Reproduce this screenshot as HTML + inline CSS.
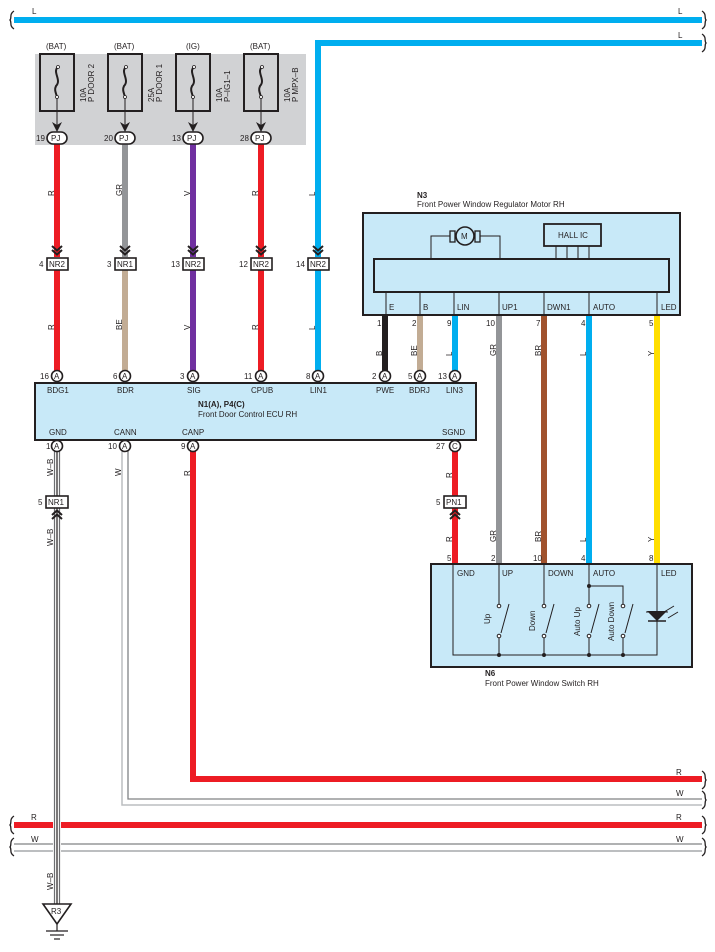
<!DOCTYPE html>
<html><head><meta charset="utf-8"><style>
html,body{margin:0;padding:0;background:#fff;}
svg{display:block;font-family:"Liberation Sans",Arial,sans-serif;}
text{font-size:8px;fill:#231f20;}
</style></head><body>
<svg width="715" height="952" viewBox="0 0 715 952" xmlns="http://www.w3.org/2000/svg">
<defs>
<g id="chevD"><path d="M-5,-10 L0,-5.5 L5,-10 M-5,-6 L0,-1.5 L5,-6" fill="none" stroke="#231f20" stroke-width="2"/></g>
<g id="chevU"><path d="M-5,10 L0,5.5 L5,10 M-5,6 L0,1.5 L5,6" fill="none" stroke="#231f20" stroke-width="2"/></g>
<path id="sq" d="M0,-9 C-5,-6 -2,-2 -4,0 C-2,2 -5,6 0,9" fill="none" stroke="#231f20" stroke-width="1.3"/>
<path id="sqr" d="M0,-9 C5,-6 2,-2 4,0 C2,2 5,6 0,9" fill="none" stroke="#231f20" stroke-width="1.3"/>
</defs>

<!-- top L buses -->
<line x1="14" y1="20" x2="702" y2="20" stroke="#00aeef" stroke-width="6"/>
<use href="#sq" x="14" y="20"/><use href="#sqr" x="702" y="20"/>
<text x="32" y="14">L</text><text x="678" y="14">L</text>
<path d="M318,257 L318,43 L702,43" fill="none" stroke="#00aeef" stroke-width="6"/>
<use href="#sqr" x="702" y="43"/>
<text x="678" y="38">L</text>

<!-- fuse box -->
<rect x="35" y="54" width="271" height="91" fill="#d1d2d4"/>
<g stroke="#231f20" stroke-width="2" fill="none">
<rect x="40" y="54" width="34" height="57"/><rect x="108" y="54" width="34" height="57"/>
<rect x="176" y="54" width="34" height="57"/><rect x="244" y="54" width="34" height="57"/>
</g>
<g fill="none" stroke="#231f20" stroke-width="2">
<path d="M58,67 C52,72 62,80 56,86 C54,90 56,93 57,97"/>
<path d="M126,67 C120,72 130,80 124,86 C122,90 124,93 125,97"/>
<path d="M194,67 C188,72 198,80 192,86 C190,90 192,93 193,97"/>
<path d="M262,67 C256,72 266,80 260,86 C258,90 260,93 261,97"/>
</g>
<g fill="#fff" stroke="#231f20" stroke-width="0.8">
<circle cx="58" cy="67" r="1.5"/><circle cx="57" cy="97" r="1.5"/>
<circle cx="126" cy="67" r="1.5"/><circle cx="125" cy="97" r="1.5"/>
<circle cx="194" cy="67" r="1.5"/><circle cx="193" cy="97" r="1.5"/>
<circle cx="262" cy="67" r="1.5"/><circle cx="261" cy="97" r="1.5"/>
</g>
<g stroke="#231f20" stroke-width="1">
<line x1="57" y1="98" x2="57" y2="125"/><line x1="125" y1="98" x2="125" y2="125"/>
<line x1="193" y1="98" x2="193" y2="125"/><line x1="261" y1="98" x2="261" y2="125"/>
</g>
<g fill="#231f20">
<path d="M52,122 L57,125 L62,122 L57,132Z"/><path d="M120,122 L125,125 L130,122 L125,132Z"/>
<path d="M188,122 L193,125 L198,122 L193,132Z"/><path d="M256,122 L261,125 L266,122 L261,132Z"/>
</g>
<text x="46" y="49">(BAT)</text><text x="114" y="49">(BAT)</text><text x="186" y="49">(IG)</text><text x="250" y="49">(BAT)</text>
<text transform="translate(86,102) rotate(-90)">10A</text><text transform="translate(94,102) rotate(-90)">P DOOR 2</text>
<text transform="translate(154,102) rotate(-90)">25A</text><text transform="translate(162,102) rotate(-90)">P DOOR 1</text>
<text transform="translate(222,102) rotate(-90)">10A</text><text transform="translate(230,102) rotate(-90)">P–IG1–1</text>
<text transform="translate(290,102) rotate(-90)">10A</text><text transform="translate(298,102) rotate(-90)">P MPX–B</text>

<!-- wires fuse->NR -->
<line x1="57" y1="144" x2="57" y2="257" stroke="#ed1c24" stroke-width="6"/>
<line x1="125" y1="144" x2="125" y2="257" stroke="#939598" stroke-width="6"/>
<line x1="193" y1="144" x2="193" y2="257" stroke="#7030a0" stroke-width="6"/>
<line x1="261" y1="144" x2="261" y2="257" stroke="#ed1c24" stroke-width="6"/>
<!-- NR -> ECU -->
<line x1="57" y1="270" x2="57" y2="372" stroke="#ed1c24" stroke-width="6"/>
<line x1="125" y1="270" x2="125" y2="372" stroke="#c2ac94" stroke-width="6"/>
<line x1="193" y1="270" x2="193" y2="372" stroke="#7030a0" stroke-width="6"/>
<line x1="261" y1="270" x2="261" y2="372" stroke="#ed1c24" stroke-width="6"/>
<line x1="318" y1="270" x2="318" y2="372" stroke="#00aeef" stroke-width="6"/>

<!-- PJ ovals -->
<g fill="#fff" stroke="#231f20" stroke-width="1.6">
<rect x="47" y="132" width="20" height="12" rx="6"/><rect x="115" y="132" width="20" height="12" rx="6"/>
<rect x="183" y="132" width="20" height="12" rx="6"/><rect x="251" y="132" width="20" height="12" rx="6"/>
</g>
<text x="51" y="141">PJ</text><text x="119" y="141">PJ</text><text x="187" y="141">PJ</text><text x="255" y="141">PJ</text>
<text x="36" y="141">19</text><text x="104" y="141">20</text><text x="172" y="141">13</text><text x="240" y="141">28</text>

<text transform="translate(54,196) rotate(-90)">R</text>
<text transform="translate(122,196) rotate(-90)">GR</text>
<text transform="translate(190,196) rotate(-90)">V</text>
<text transform="translate(258,196) rotate(-90)">R</text>
<text transform="translate(315,196) rotate(-90)">L</text>
<text transform="translate(54,330) rotate(-90)">R</text>
<text transform="translate(122,330) rotate(-90)">BE</text>
<text transform="translate(190,330) rotate(-90)">V</text>
<text transform="translate(258,330) rotate(-90)">R</text>
<text transform="translate(315,330) rotate(-90)">L</text>

<!-- NR connectors -->
<use href="#chevD" x="57" y="256"/><use href="#chevD" x="125" y="256"/><use href="#chevD" x="193" y="256"/><use href="#chevD" x="261" y="256"/><use href="#chevD" x="318" y="256"/>
<g fill="#fff" stroke="#231f20" stroke-width="1.6">
<rect x="47" y="258" width="21" height="12"/><rect x="115" y="258" width="21" height="12"/>
<rect x="183" y="258" width="21" height="12"/><rect x="251" y="258" width="21" height="12"/>
<rect x="308" y="258" width="21" height="12"/>
</g>
<text x="49" y="267">NR2</text><text x="117" y="267">NR1</text><text x="185" y="267">NR2</text><text x="253" y="267">NR2</text><text x="310" y="267">NR2</text>
<text x="39" y="267">4</text><text x="107" y="267">3</text><text x="171" y="267">13</text><text x="239" y="267">12</text><text x="296" y="267">14</text>

<!-- N3 -->
<text x="417" y="198" style="font-weight:bold">N3</text>
<text x="417" y="207">Front Power Window Regulator Motor RH</text>
<rect x="363" y="213" width="317" height="102" fill="#c8e9f8" stroke="#231f20" stroke-width="2"/>
<rect x="374" y="259" width="295" height="33" fill="#c8e9f8" stroke="#231f20" stroke-width="2"/>
<path d="M431,259 L431,236 L500,236 L500,259" fill="none" stroke="#231f20" stroke-width="1"/>
<rect x="450" y="231" width="5" height="11" fill="#c8e9f8" stroke="#231f20" stroke-width="1.3"/>
<rect x="475" y="231" width="5" height="11" fill="#c8e9f8" stroke="#231f20" stroke-width="1.3"/>
<circle cx="465" cy="236" r="9" fill="#c8e9f8" stroke="#231f20" stroke-width="1.6"/>
<text x="461" y="239">M</text>
<rect x="544" y="224" width="57" height="22" fill="#c8e9f8" stroke="#231f20" stroke-width="1.8"/>
<text x="558" y="238">HALL IC</text>
<g stroke="#231f20" stroke-width="1"><line x1="556" y1="246" x2="556" y2="259"/><line x1="567" y1="246" x2="567" y2="259"/><line x1="578" y1="246" x2="578" y2="259"/><line x1="589" y1="246" x2="589" y2="259"/>
<line x1="386" y1="292" x2="386" y2="315"/><line x1="420" y1="292" x2="420" y2="315"/><line x1="454" y1="292" x2="454" y2="315"/><line x1="499" y1="292" x2="499" y2="315"/><line x1="544" y1="292" x2="544" y2="315"/><line x1="589" y1="292" x2="589" y2="315"/><line x1="657" y1="292" x2="657" y2="315"/></g>
<text x="389" y="310">E</text><text x="423" y="310">B</text><text x="457" y="310">LIN</text><text x="502" y="310">UP1</text><text x="547" y="310">DWN1</text><text x="593" y="310">AUTO</text><text x="661" y="310">LED</text>

<!-- N3 wires -->
<line x1="385" y1="316" x2="385" y2="372" stroke="#231f20" stroke-width="6"/>
<line x1="420" y1="316" x2="420" y2="372" stroke="#c2ac94" stroke-width="6"/>
<line x1="455" y1="316" x2="455" y2="372" stroke="#00aeef" stroke-width="6"/>
<line x1="499" y1="316" x2="499" y2="564" stroke="#939598" stroke-width="6"/>
<line x1="544" y1="316" x2="544" y2="564" stroke="#a0522d" stroke-width="6"/>
<line x1="589" y1="316" x2="589" y2="564" stroke="#00aeef" stroke-width="6"/>
<line x1="657" y1="316" x2="657" y2="564" stroke="#ffde00" stroke-width="6"/>
<text x="377" y="326">1</text><text x="412" y="326">2</text><text x="447" y="326">9</text><text x="486" y="326">10</text><text x="536" y="326">7</text><text x="581" y="326">4</text><text x="649" y="326">5</text>
<text transform="translate(382,356) rotate(-90)">B</text>
<text transform="translate(417,356) rotate(-90)">BE</text>
<text transform="translate(452,356) rotate(-90)">L</text>
<text transform="translate(496,356) rotate(-90)">GR</text>
<text transform="translate(541,356) rotate(-90)">BR</text>
<text transform="translate(586,356) rotate(-90)">L</text>
<text transform="translate(654,356) rotate(-90)">Y</text>
<text transform="translate(496,542) rotate(-90)">GR</text>
<text transform="translate(541,542) rotate(-90)">BR</text>
<text transform="translate(586,542) rotate(-90)">L</text>
<text transform="translate(654,542) rotate(-90)">Y</text>

<!-- ECU -->
<rect x="35" y="383" width="441" height="57" fill="#c8e9f8" stroke="#231f20" stroke-width="2"/>
<text x="47" y="393">BDG1</text><text x="117" y="393">BDR</text><text x="187" y="393">SIG</text><text x="251" y="393">CPUB</text><text x="310" y="393">LIN1</text>
<text x="376" y="393">PWE</text><text x="409" y="393">BDRJ</text><text x="446" y="393">LIN3</text>
<text x="198" y="407" style="font-weight:bold">N1(A), P4(C)</text>
<text x="198" y="417">Front Door Control ECU RH</text>
<text x="49" y="435">GND</text><text x="114" y="435">CANN</text><text x="182" y="435">CANP</text><text x="442" y="435">SGND</text>

<!-- ECU lower wires -->
<line x1="455" y1="450" x2="455" y2="564" stroke="#ed1c24" stroke-width="6"/>
<text transform="translate(452,478) rotate(-90)">R</text>
<text transform="translate(452,542) rotate(-90)">R</text>
<path d="M193,450 L193,779 L702,779" fill="none" stroke="#ed1c24" stroke-width="6"/>
<text transform="translate(190,476) rotate(-90)">R</text>
<path d="M122,450 L122,805 L702,805" fill="none" stroke="#bcbec0" stroke-width="1.5"/>
<path d="M128,450 L128,799 L702,799" fill="none" stroke="#808285" stroke-width="1.3"/>
<text transform="translate(121,476) rotate(-90)">W</text>
<text x="676" y="775">R</text><text x="676" y="796">W</text>
<use href="#sqr" x="702" y="780"/><use href="#sqr" x="702" y="800"/>

<!-- lower bus -->
<line x1="14" y1="825" x2="702" y2="825" stroke="#ed1c24" stroke-width="6"/>
<line x1="14" y1="844" x2="702" y2="844" stroke="#808285" stroke-width="1.3"/>
<line x1="14" y1="851" x2="702" y2="851" stroke="#bcbec0" stroke-width="2"/>
<text x="31" y="820">R</text><text x="31" y="842">W</text><text x="676" y="820">R</text><text x="676" y="842">W</text>
<use href="#sq" x="14" y="825"/><use href="#sq" x="14" y="847"/><use href="#sqr" x="702" y="825"/><use href="#sqr" x="702" y="847"/>

<!-- GND W-B -->
<line x1="57" y1="450" x2="57" y2="906" stroke="#fff" stroke-width="8"/>
<line x1="54.5" y1="450" x2="54.5" y2="906" stroke="#6d6e71" stroke-width="1.2"/>
<line x1="59.5" y1="450" x2="59.5" y2="906" stroke="#6d6e71" stroke-width="1.2"/>
<line x1="57" y1="450" x2="57" y2="906" stroke="#231f20" stroke-width="1.2"/>
<text transform="translate(53,476) rotate(-90)">W–B</text>
<text transform="translate(53,546) rotate(-90)">W–B</text>
<text transform="translate(53,890) rotate(-90)">W–B</text>
<path d="M43,904 L71,904 L57,924Z" fill="#fff" stroke="#231f20" stroke-width="1.6"/>
<text x="51" y="914">R3</text>
<g stroke="#231f20" stroke-width="1.2"><line x1="57" y1="924" x2="57" y2="931"/><line x1="46" y1="931" x2="68" y2="931"/><line x1="50" y1="935" x2="64" y2="935"/><line x1="54" y1="939" x2="60" y2="939"/></g>

<!-- NR1 / PN1 -->
<use href="#chevU" x="57" y="509"/><use href="#chevU" x="455" y="509"/>
<rect x="46" y="496" width="22" height="12" fill="#fff" stroke="#231f20" stroke-width="1.6"/>
<rect x="444" y="496" width="22" height="12" fill="#fff" stroke="#231f20" stroke-width="1.6"/>
<text x="48" y="505">NR1</text><text x="446" y="505">PN1</text>
<text x="38" y="505">5</text><text x="436" y="505">5</text>

<!-- ECU circles -->
<g fill="#fff" stroke="#231f20" stroke-width="1.6">
<circle cx="57" cy="376" r="5.5"/><circle cx="125" cy="376" r="5.5"/><circle cx="193" cy="376" r="5.5"/><circle cx="261" cy="376" r="5.5"/><circle cx="318" cy="376" r="5.5"/>
<circle cx="385" cy="376" r="5.5"/><circle cx="420" cy="376" r="5.5"/><circle cx="455" cy="376" r="5.5"/>
<circle cx="57" cy="446" r="5.5"/><circle cx="125" cy="446" r="5.5"/><circle cx="193" cy="446" r="5.5"/><circle cx="455" cy="446" r="5.5"/>
</g>
<g style="font-size:7px">
<text x="54" y="379">A</text><text x="122" y="379">A</text><text x="190" y="379">A</text><text x="258" y="379">A</text><text x="315" y="379">A</text>
<text x="382" y="379">A</text><text x="417" y="379">A</text><text x="452" y="379">A</text>
<text x="54" y="449">A</text><text x="122" y="449">A</text><text x="190" y="449">A</text><text x="452" y="449">C</text>
</g>
<text x="40" y="379">16</text><text x="113" y="379">6</text><text x="180" y="379">3</text><text x="244" y="379">11</text><text x="306" y="379">8</text>
<text x="372" y="379">2</text><text x="408" y="379">5</text><text x="438" y="379">13</text>
<text x="46" y="449">1</text><text x="108" y="449">10</text><text x="181" y="449">9</text><text x="436" y="449">27</text>

<!-- N6 -->
<rect x="431" y="564" width="261" height="103" fill="#c8e9f8" stroke="#231f20" stroke-width="2"/>
<text x="447" y="561">5</text><text x="491" y="561">2</text><text x="533" y="561">10</text><text x="581" y="561">4</text><text x="649" y="561">8</text>
<text x="457" y="576">GND</text><text x="502" y="576">UP</text><text x="548" y="576">DOWN</text><text x="593" y="576">AUTO</text><text x="661" y="576">LED</text>
<g stroke="#231f20" stroke-width="1" fill="none">
<path d="M453,564 L453,655 L657,655 L657,564"/>
<line x1="499" y1="564" x2="499" y2="605"/><line x1="499" y1="636" x2="499" y2="655"/>
<line x1="544" y1="564" x2="544" y2="605"/><line x1="544" y1="636" x2="544" y2="655"/>
<line x1="589" y1="564" x2="589" y2="605"/><line x1="589" y1="636" x2="589" y2="655"/>
<path d="M589,586 L623,586 L623,605"/><line x1="623" y1="636" x2="623" y2="655"/>
<line x1="501" y1="633" x2="509" y2="604"/><line x1="546" y1="633" x2="554" y2="604"/>
<line x1="591" y1="633" x2="599" y2="604"/><line x1="625" y1="633" x2="633" y2="604"/>
<line x1="646" y1="612" x2="668" y2="612"/>
<path d="M664,612 L674,606 M668,618 L678,612"/>
</g>
<path d="M647,611 L667,611 L657,621Z" fill="#231f20"/>
<line x1="648" y1="621" x2="666" y2="621" stroke="#231f20" stroke-width="1.5"/>
<g fill="#fff" stroke="#231f20" stroke-width="1">
<circle cx="499" cy="606" r="1.8"/><circle cx="499" cy="636" r="1.8"/>
<circle cx="544" cy="606" r="1.8"/><circle cx="544" cy="636" r="1.8"/>
<circle cx="589" cy="606" r="1.8"/><circle cx="589" cy="636" r="1.8"/>
<circle cx="623" cy="606" r="1.8"/><circle cx="623" cy="636" r="1.8"/>
</g>
<g fill="#231f20"><circle cx="499" cy="655" r="2"/><circle cx="544" cy="655" r="2"/><circle cx="589" cy="655" r="2"/><circle cx="623" cy="655" r="2"/><circle cx="589" cy="586" r="2"/></g>
<text transform="translate(490,624) rotate(-90)">Up</text>
<text transform="translate(535,631) rotate(-90)">Down</text>
<text transform="translate(580,636) rotate(-90)">Auto Up</text>
<text transform="translate(614,641) rotate(-90)">Auto Down</text>
<text x="485" y="676" style="font-weight:bold">N6</text>
<text x="485" y="686">Front Power Window Switch RH</text>
</svg>
</body></html>
